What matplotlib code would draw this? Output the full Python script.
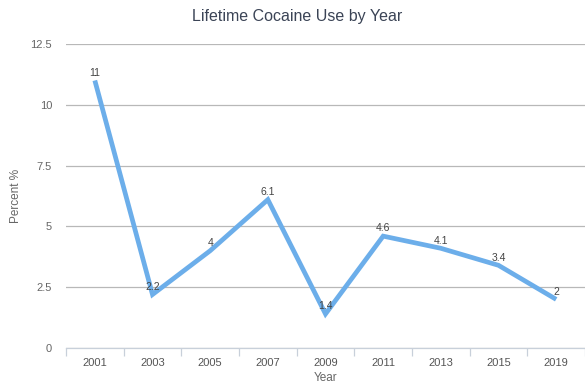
import matplotlib.pyplot as plt
import numpy as np

plt.rcParams["font.family"] = ["Liberation Sans", "DejaVu Sans"]

years = ["2001", "2003", "2005", "2007", "2009", "2011", "2013", "2015", "2019"]
percent = [11, 2.2, 4, 6.1, 1.4, 4.6, 4.1, 3.4, 2]
y_ticks = [0, 2.5, 5, 7.5, 10, 12.5]
y_tick_labels = ["0", "2.5", "5", "7.5", "10", "12.5"]

fig = plt.figure(figsize=(5.85, 3.85), dpi=100)
ax = fig.add_axes([66 / 585, 1 - 348 / 385, 519 / 585, 304 / 385])

x = np.arange(len(years))
ax.plot(x, percent, color="#6caeea", linewidth=3.4, solid_joinstyle="miter",
        solid_capstyle="butt", zorder=3)

for xi, v in zip(x, percent):
    ax.annotate(f"{v:g}", (xi, v), xytext=(0, 5.5), textcoords="offset points",
                ha="center", va="center", fontsize=7.5, color="#444444", zorder=4)

ax.set_xlim(-0.5, len(years) - 0.5)
ax.set_ylim(0, 12.5)
ax.set_yticks(y_ticks)
ax.set_yticklabels(y_tick_labels)
ax.set_xticks(x)
ax.set_xticklabels(years)
ax.set_xticks(np.arange(len(years) + 1) - 0.5, minor=True)

ax.grid(axis="y", color="#b8b8b8", linewidth=0.9)
ax.set_axisbelow(True)
for side in ("top", "right", "left"):
    ax.spines[side].set_visible(False)
ax.spines["bottom"].set_color("#c8d0da")
ax.spines["bottom"].set_linewidth(0.9)

ax.tick_params(axis="y", length=0, pad=10, labelsize=8, labelcolor="#666666")
ax.tick_params(axis="x", which="major", length=0, pad=7, labelsize=8,
               labelcolor="#555555")
ax.tick_params(axis="x", which="minor", length=6, width=0.9, color="#c8d0da")

ax.set_ylabel("Percent %", fontsize=8.5, color="#666666")
ax.yaxis.set_label_coords(-44 / 519, 0.5)
ax.set_xlabel("Year", fontsize=8.5, color="#666666", labelpad=3)

fig.text(297 / 585, 1 - 17 / 385, "Lifetime Cocaine Use by Year", ha="center",
         va="center", fontsize=11.5, color="#3b4456")

fig.savefig("out.png", dpi=100)
